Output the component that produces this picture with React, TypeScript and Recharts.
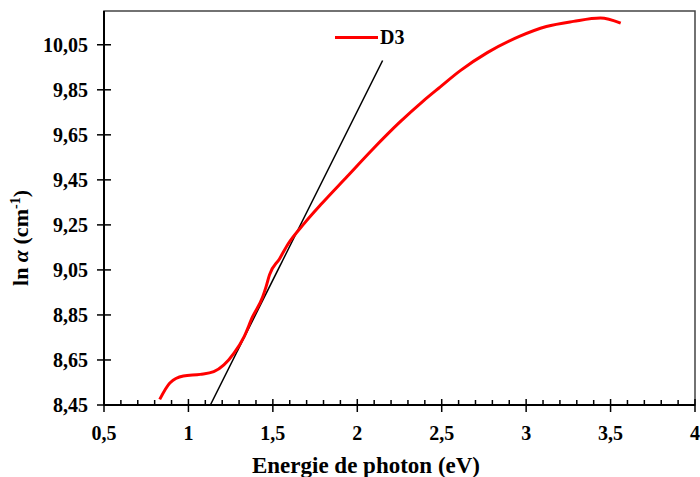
import { Legend, Line, LineChart, ReferenceArea, ReferenceLine, XAxis, YAxis } from 'recharts'

const energie = [
  0.83, 0.89, 0.97, 1.07, 1.15, 1.21, 1.27, 1.33, 1.38, 1.44, 1.46, 1.48, 1.54, 1.59,
  1.69, 1.79, 1.94, 2.09, 2.25, 2.39, 2.49, 2.61, 2.77, 2.96, 3.12, 3.28, 3.44, 3.56,
]
const lnAlpha = [
  8.475, 8.548, 8.579, 8.586, 8.598, 8.628, 8.68, 8.754, 8.842, 8.931, 8.976, 9.028, 9.1, 9.165,
  9.26, 9.345, 9.465, 9.585, 9.705, 9.8, 9.862, 9.935, 10.015, 10.087, 10.131, 10.154, 10.169, 10.146,
]

// tangente (extrapolation du gap)
const tangente = [
  { x: 1.13, y: 8.45 },
  { x: 2.15, y: 9.98 },
]

const xMajorTicks = [0.5, 1, 1.5, 2, 2.5, 3, 3.5, 4]
const xMinorTicks = [
  0.6, 0.7, 0.8, 0.9, 1.1, 1.2, 1.3, 1.4, 1.6, 1.7, 1.8, 1.9, 2.1, 2.2, 2.3, 2.4,
  2.6, 2.7, 2.8, 2.9, 3.1, 3.2, 3.3, 3.4, 3.6, 3.7, 3.8, 3.9,
]
const yTicks = [8.45, 8.65, 8.85, 9.05, 9.25, 9.45, 9.65, 9.85, 10.05]

const serie = 'D3'
const FONT = '"Liberation Serif", "Times New Roman", serif'

const dados = energie.map((e, i) => ({ energie: e, lnAlpha: lnAlpha[i] }))

function XTick({ x, y, payload }: any) {
  const v = payload.value
  if (!xMajorTicks.includes(v)) {
    return <line x1={x} x2={x} y1={y} y2={y - 5} stroke="#000" strokeWidth={1.5} />
  }
  return (
    <g>
      <line x1={x} x2={x} y1={y - 6} y2={y + 7} stroke="#000" strokeWidth={1.5} />
      <text x={x} y={y + 35} textAnchor="middle" fontFamily={FONT} fontWeight="bold" fontSize={20} fill="#000">
        {String(v).replace('.', ',')}
      </text>
    </g>
  )
}

function YTick({ x, y, payload }: any) {
  return (
    <g>
      <line x1={x - 7} x2={x + 7} y1={y} y2={y} stroke="#000" strokeWidth={1.5} />
      <text x={x - 16} y={y + 7} textAnchor="end" fontFamily={FONT} fontWeight="bold" fontSize={20} fill="#000">
        {payload.value.toFixed(2).replace('.', ',')}
      </text>
    </g>
  )
}

function LegendeD3() {
  return (
    <div style={{ display: 'flex', alignItems: 'center', fontFamily: FONT, fontWeight: 'bold', fontSize: 20 }}>
      <span style={{ display: 'inline-block', width: 43, height: 3, background: '#ff0000', marginRight: 2 }} />
      <span>{serie}</span>
    </div>
  )
}

export default function App() {
  return (
    <div style={{ position: 'absolute', left: 0, top: 0, background: '#fff' }}>
      <LineChart width={700} height={477} data={dados} margin={{ top: 11, right: 5, left: 0, bottom: 0 }}>
        <ReferenceArea x1={0.5} x2={4} y1={8.45} y2={10.2} fill="none" stroke="#444" strokeWidth={1.5} ifOverflow="visible" />
        <XAxis
          dataKey="energie"
          type="number"
          domain={[0.5, 4]}
          ticks={[...xMajorTicks, ...xMinorTicks]}
          interval={0}
          height={72}
          tickSize={0}
          tickMargin={0}
          tickLine={false}
          tick={<XTick />}
          axisLine={{ stroke: '#000', strokeWidth: 2 }}
          allowDataOverflow
          label={{
            content: () => (
              <text x={366} y={473} textAnchor="middle" fontFamily={FONT} fontWeight="bold" fontSize={23} fill="#000">
                Energie de photon (eV)
              </text>
            ),
          }}
        />
        <YAxis
          type="number"
          domain={[8.45, 10.2]}
          ticks={yTicks}
          interval={0}
          width={104}
          tickSize={0}
          tickMargin={0}
          tickLine={false}
          tick={<YTick />}
          axisLine={{ stroke: '#000', strokeWidth: 2 }}
          allowDataOverflow
          label={{
            content: () => (
              <text
                x={28}
                y={238}
                transform="rotate(-90 28 238)"
                textAnchor="middle"
                fontFamily={FONT}
                fontWeight="bold"
                fontSize={22}
                fill="#000"
              >
                ln <tspan fontStyle="italic">α</tspan> (cm
                <tspan dy={-8} fontSize={14}>-1</tspan>
                <tspan dy={8}>)</tspan>
              </text>
            ),
          }}
        />
        <ReferenceLine segment={tangente} stroke="#000" strokeWidth={1.5} ifOverflow="visible" />
        <Line
          dataKey="lnAlpha"
          name={serie}
          type="monotone"
          stroke="#ff0000"
          strokeWidth={3}
          dot={false}
          isAnimationActive={false}
        />
        <Legend
          layout="vertical"
          align="center"
          verticalAlign="middle"
          content={<LegendeD3 />}
          wrapperStyle={{ left: 335, top: 26, width: 'auto', height: 'auto' }}
        />
      </LineChart>
    </div>
  )
}
